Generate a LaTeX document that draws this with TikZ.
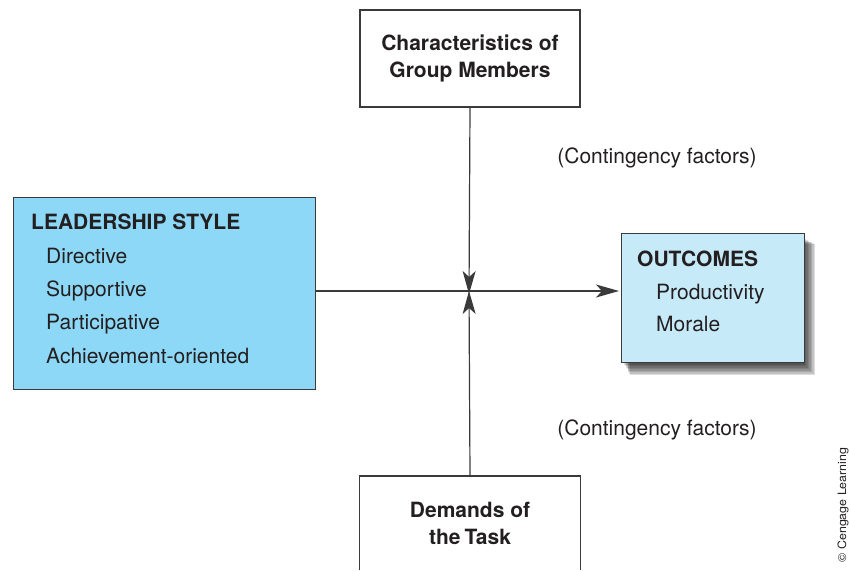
\documentclass[tikz,border=0pt]{standalone}
\usepackage{fontspec}
\setmainfont{TeX Gyre Heros}
\usetikzlibrary{arrows.meta}
\definecolor{ink}{HTML}{231F20}
\definecolor{edge}{HTML}{3A3A3A}
\definecolor{styleblue}{RGB}{141,216,246}
\definecolor{outblue}{RGB}{199,234,249}
\tikzset{
  plainbox/.style={draw=edge, line width=1.2pt, fill=white, inner sep=0pt},
  titletext/.style={font=\fontsize{21}{27}\selectfont\bfseries, text=ink, inner sep=0pt},
  itemtext/.style={font=\fontsize{21}{27}\selectfont, text=ink, inner sep=0pt, anchor=base west},
  connector/.style={draw=edge, line width=1.2pt},
  tip/.style={-{Stealth[length=23pt, width=13pt, inset=6pt]}},
}
\begin{document}
\begin{tikzpicture}[x=1pt, y=-1pt]
\useasboundingbox (0,0) rectangle (850,570);

% centre where the three influences meet
\coordinate (hub) at (469,291);

% top factor box
\node[plainbox, minimum width=220, minimum height=97] (members) at (470,58.5) {};
\node[titletext, align=center] (memberstext) at (members.center)
  {Characteristics of\\Group Members};

% bottom factor box, running off the lower edge
\node[inner sep=0pt, minimum width=220, minimum height=94, anchor=north] (task) at (470,476) {};
\draw[edge, line width=1.2pt] (task.south west) -- (task.north west) -- (task.north east) -- (task.south east);
\node[titletext, align=center] (tasktext) at (470,523) {Demands of\\the\hspace{0.2em}Task};

% leadership style box
\node[draw=edge, line width=1.2pt, fill=styleblue, minimum width=302, minimum height=192,
      inner sep=0pt, anchor=north west] (style) at (13,197) {};
\node[titletext, anchor=base west] (styletitle) at (31,229) {LEADERSHIP STYLE};
\node[itemtext] (directive) at (46,263) {Directive};
\node[itemtext] (supportive) at (46,296) {Supportive};
\node[itemtext] (participative) at (46,329.5) {Participative};
\node[itemtext] (achievement) at (46,363) {Achievement-oriented};

% soft shadow behind the outcomes box
\foreach \g in {0,1,...,7}{
  \fill[black, opacity=0.13] (630-\g*0.8,244-\g*0.8) rectangle (815-\g*1.5,375-\g*1.5);
}

% outcomes box
\node[draw=edge, line width=1.2pt, fill=outblue, minimum width=183, minimum height=129,
      inner sep=0pt, anchor=north west] (outcomes) at (621,233) {};
\node[titletext, anchor=base west] (outtitle) at (637,266) {OUTCOMES};
\node[itemtext] (productivity) at (656,299) {Productivity};
\node[itemtext] (morale) at (656,331) {Morale};

% connectors
\draw[connector, tip] (members.south) -- ([yshift=-3pt]hub);
\draw[connector, tip] (task.north) -- (hub);
\draw[connector, tip, shorten >=2pt] (style.east |- hub) -- (outcomes.west |- hub);

% contingency labels
\node[font=\fontsize{21}{26}\selectfont, text=ink, inner sep=0pt] (contup) at (657,158) {(Contingency factors)};
\node[font=\fontsize{21}{26}\selectfont, text=ink, inner sep=0pt] (contdown) at (657,430) {(Contingency factors)};

% credit line
\node[rotate=90, font=\fontsize{11.5}{13}\selectfont, text=ink, inner sep=0pt] (credit) at (843,505)
  {\scalebox{1.08}[1]{\textcopyright\ Cengage Learning}};
\end{tikzpicture}
\end{document}
